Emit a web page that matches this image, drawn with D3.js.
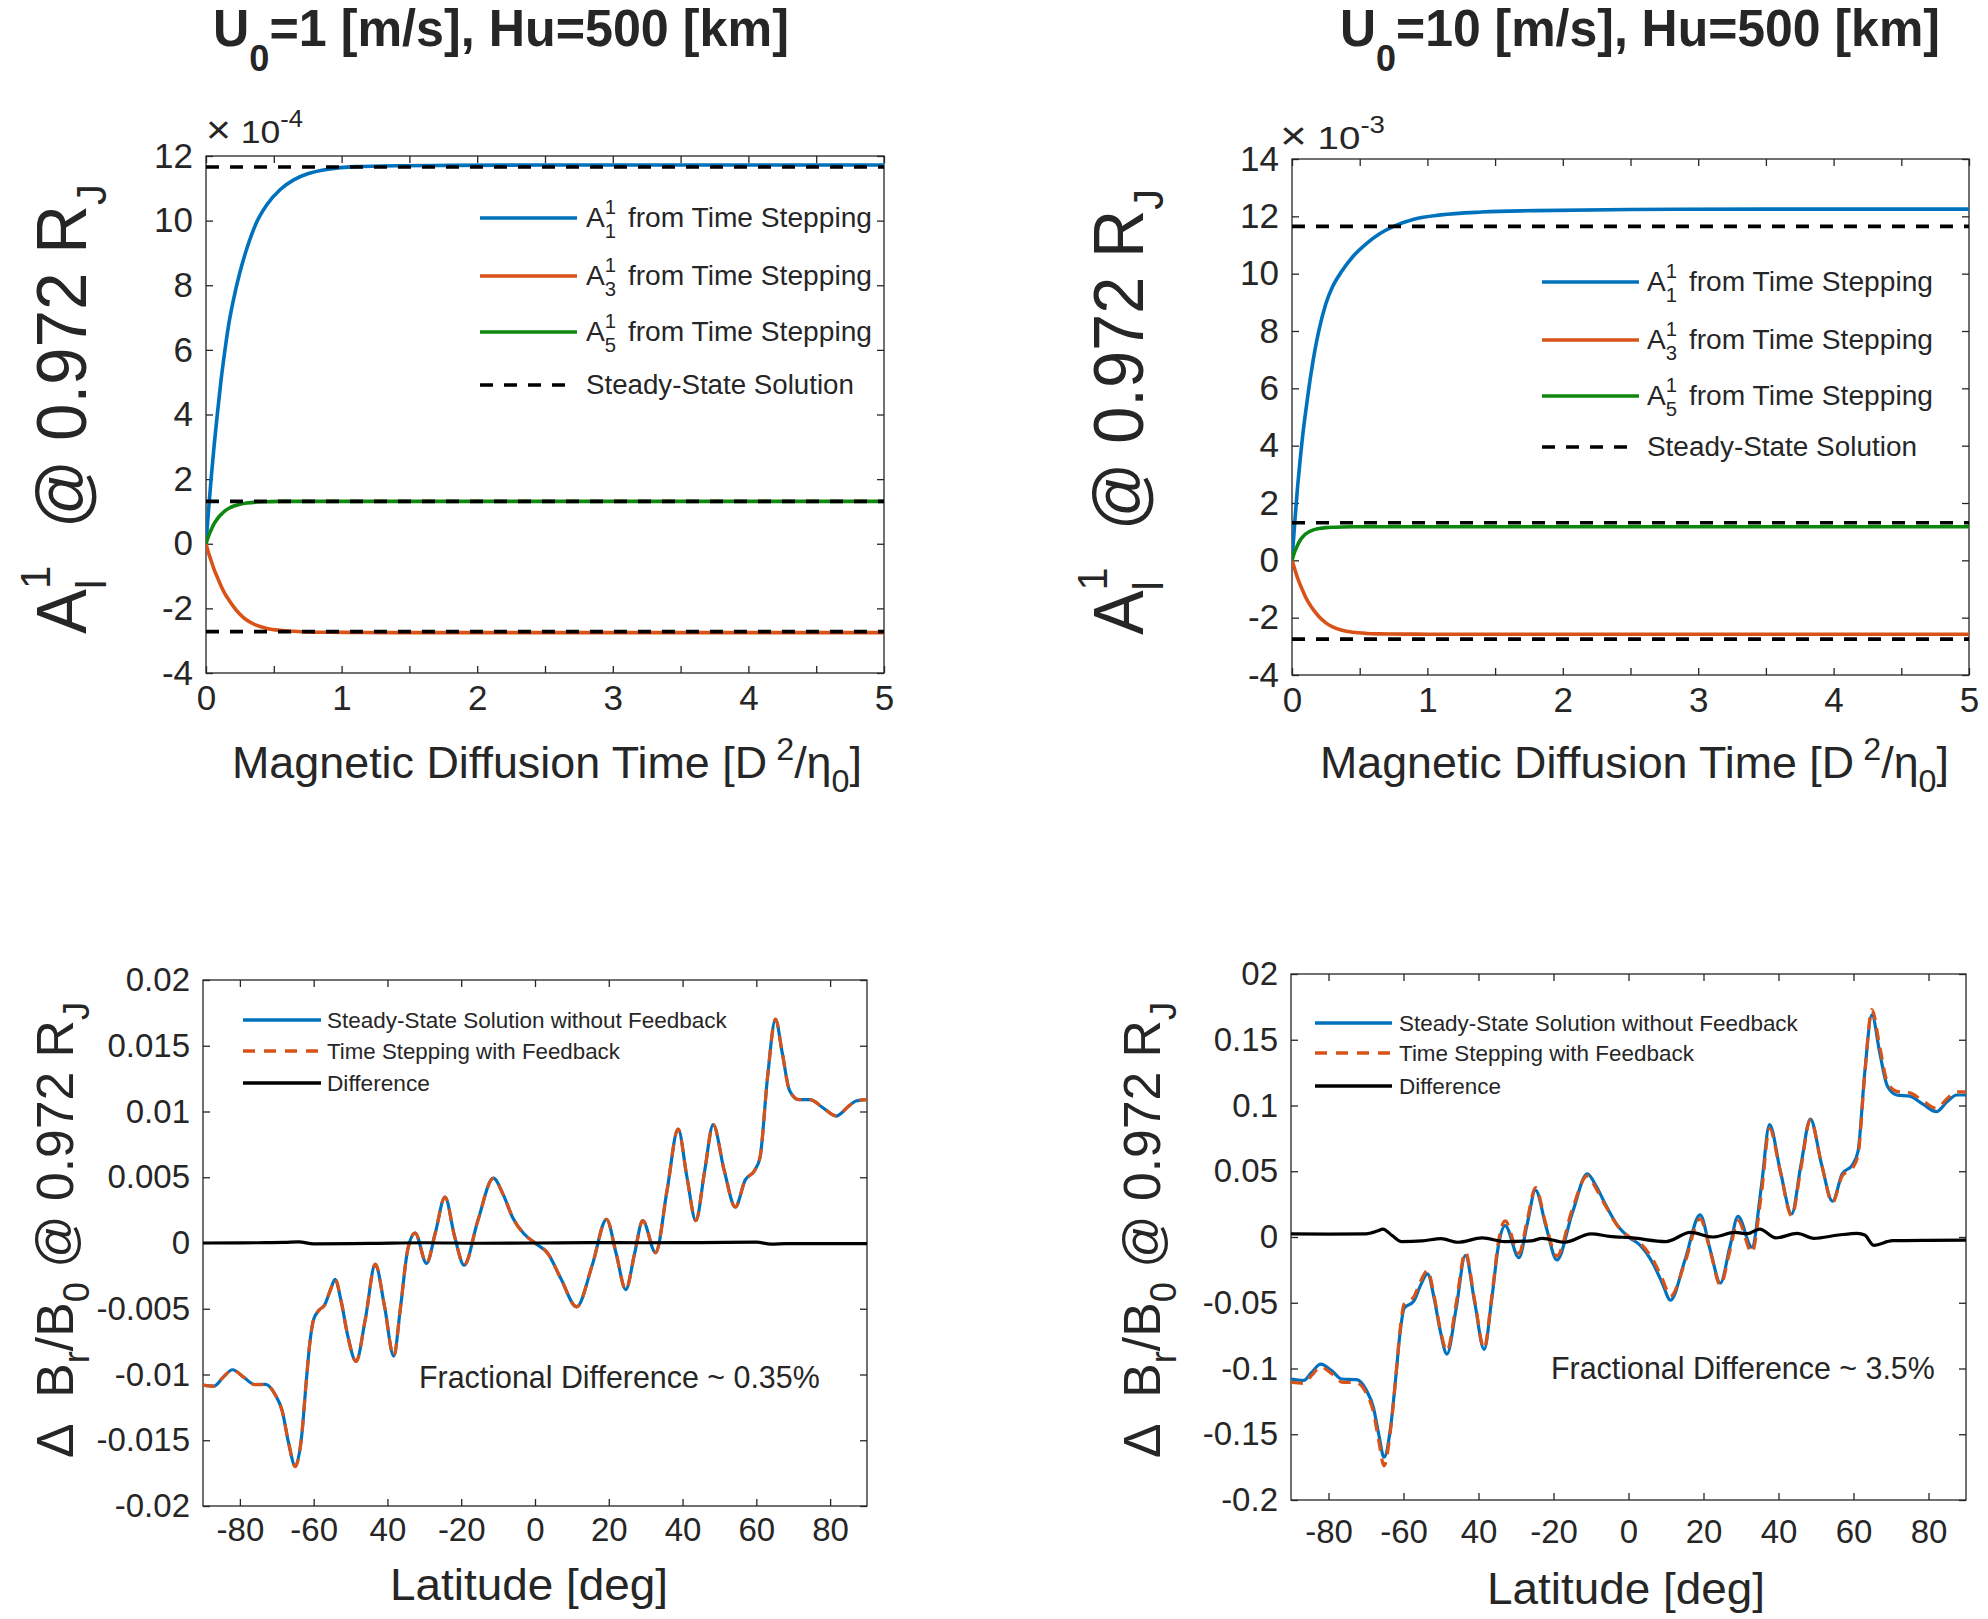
<!DOCTYPE html>
<html><head><meta charset="utf-8"><title>chart</title>
<script src="https://cdn.jsdelivr.net/npm/d3@7/dist/d3.min.js"></script>
<style>
html,body{margin:0;padding:0;background:#fff}
svg text{font-family:"Liberation Sans",Arial,Helvetica,sans-serif;white-space:pre}
</style></head><body>
<svg id="chart" width="1988" height="1619" xmlns="http://www.w3.org/2000/svg"></svg>
<script>
// ================= DATA =================
// top panels: time axis [D^2/eta0]
const timeTop = [0, 0.02, 0.04, 0.06, 0.085, 0.11, 0.14, 0.17, 0.2, 0.25, 0.3, 0.37, 0.45, 0.55, 0.65, 0.75, 0.9, 1.1, 1.4, 1.8, 2.5, 3.5, 5];
// left panel (x 1e-4)
const a1Left = [0, 1.11, 2.12, 3.04, 4.07, 5.03, 6.0, 6.85, 7.5, 8.4, 9.12, 9.92, 10.5, 10.97, 11.27, 11.45, 11.59, 11.67, 11.7, 11.71, 11.72, 11.72, 11.72];
const a3Left = [0, -0.3, -0.55, -0.8, -1.05, -1.3, -1.55, -1.75, -1.93, -2.18, -2.36, -2.52, -2.62, -2.68, -2.71, -2.73, -2.74, -2.745, -2.75, -2.75, -2.75, -2.75, -2.75];
const a5Left = [0, 0.25, 0.45, 0.62, 0.78, 0.9, 1.02, 1.1, 1.16, 1.22, 1.26, 1.29, 1.3, 1.31, 1.31, 1.31, 1.31, 1.31, 1.31, 1.31, 1.31, 1.31, 1.31];
const steadyLeft = [11.66, -2.72, 1.31];
// right panel (x 1e-3)
const a1Right = [0, 1.3, 2.5, 3.5, 4.6, 5.5, 6.5, 7.35, 8.05, 8.95, 9.55, 10.1, 10.6, 11.05, 11.4, 11.65, 11.9, 12.05, 12.15, 12.2, 12.24, 12.25, 12.25];
const a3Right = [0, -0.3, -0.6, -0.85, -1.12, -1.37, -1.6, -1.8, -1.97, -2.18, -2.32, -2.44, -2.51, -2.55, -2.565, -2.57, -2.575, -2.58, -2.58, -2.58, -2.58, -2.58, -2.58];
const a5Right = [0, 0.3, 0.52, 0.7, 0.85, 0.95, 1.03, 1.08, 1.11, 1.14, 1.155, 1.165, 1.17, 1.17, 1.17, 1.17, 1.17, 1.17, 1.17, 1.17, 1.17, 1.17, 1.17];
const steadyRight = [11.65, -2.75, 1.31];

const timeTicks = [0, 0.5, 1, 1.5, 2, 2.5, 3, 3.5, 4, 4.5, 5];
const timeTickLabels = ['0', '1', '2', '3', '4', '5'];
const yTicksLeft = [-4, -2, 0, 2, 4, 6, 8, 10, 12];
const yTickLabelsLeft = ['-4', '-2', '0', '2', '4', '6', '8', '10', '12'];
const yTicksRight = [-4, -2, 0, 2, 4, 6, 8, 10, 12, 14];
const yTickLabelsRight = ['-4', '-2', '0', '2', '4', '6', '8', '10', '12', '14'];

// bottom-left panel: latitude profile, U0 = 1 m/s
const latBL = [-90, -87, -84.5, -82, -79, -76, -73, -70.5, -68.5, -66.8, -65, -63.3, -62, -61, -60, -58.5, -57, -55.5, -54.2, -52.5, -50.8, -48.5, -46, -43.3, -40.8, -38.3, -36.5, -34.5, -32.5, -29.4, -27, -24.4, -21.8, -19.2, -15.5, -11.3, -8.5, -6, -3, 0, 3.5, 7, 11.3, 15.5, 19.4, 22, 24.6, 27, 29.2, 32.7, 35.8, 38.8, 41.2, 43.6, 46, 48.3, 51.3, 54.3, 57, 59.5, 61, 63, 65.2, 67, 69, 71.5, 74.5, 78, 81.7, 85, 87, 90];
const steadyBL = [-0.0108, -0.01088, -0.0102, -0.00964, -0.0102, -0.01076, -0.01075, -0.0115, -0.0128, -0.0152, -0.01697, -0.0148, -0.0105, -0.0075, -0.0058, -0.0051, -0.0047, -0.0036, -0.00277, -0.0045, -0.007, -0.00901, -0.0058, -0.00162, -0.0048, -0.0086, -0.005, -0.0005, 0.00075, -0.00155, 0.0008, 0.0035, 0.0005, -0.00169, 0.0017, 0.00493, 0.0036, 0.0019, 0.0007, 0.0, -0.0008, -0.0027, -0.00486, -0.0017, 0.0018, -0.0008, -0.00354, -0.0008, 0.0017, -0.00075, 0.004, 0.00867, 0.005, 0.0017, 0.0055, 0.009, 0.0055, 0.00274, 0.0048, 0.0055, 0.0065, 0.0125, 0.017, 0.0145, 0.0116, 0.0109, 0.0109, 0.0103, 0.00965, 0.0104, 0.0108, 0.0109];
const timeBL = [-0.01081, -0.01089, -0.0102, -0.00965, -0.0102, -0.01077, -0.01076, -0.0115, -0.0128, -0.0152, -0.017, -0.0148, -0.0105, -0.0075, -0.0058, -0.0051, -0.0047, -0.0036, -0.00276, -0.0045, -0.007, -0.009, -0.0058, -0.00161, -0.0048, -0.0086, -0.005, -0.0005, 0.00076, -0.00154, 0.0008, 0.0035, 0.0005, -0.00168, 0.0017, 0.00492, 0.0036, 0.0019, 0.0007, 0.0, -0.0008, -0.0027, -0.00485, -0.0017, 0.0018, -0.0008, -0.00355, -0.0008, 0.0017, -0.00074, 0.004, 0.00866, 0.005, 0.0017, 0.0055, 0.009, 0.0055, 0.00273, 0.0048, 0.0055, 0.0065, 0.0125, 0.01702, 0.0145, 0.0116, 0.0109, 0.0109, 0.0103, 0.00966, 0.0104, 0.0108, 0.0109];
const diffLatBL = [-90, -75, -68, -64, -60, -45, -30, -15, 0, 15, 30, 45, 60, 64, 68, 75, 90];
const diffBL = [0, 0.00002, 0.00004, 0.00008, -0.00006, -0.00003, 0.00002, -0.00002, 0, 0.00003, 0.00002, 0.00003, 0.00006, -0.00008, -0.00005, -0.00004, -0.00004];

// bottom-right panel: latitude profile, U0 = 10 m/s
const latBR = [-90, -86.6, -84.5, -82.1, -79, -76.5, -72.5, -70, -68, -66.6, -65.2, -63.5, -62, -61, -59.8, -57.3, -55.5, -53.6, -51.8, -50.3, -48.4, -46, -43.5, -41, -38.5, -36.5, -34.6, -32.9, -29.2, -27, -24.8, -22, -19.1, -15, -11, -8.5, -6, -3, 0, 3, 6.5, 9, 11.2, 15, 19.1, 21.8, 24.5, 27, 29.2, 32.9, 35.5, 37.6, 40.5, 43.5, 46, 48.5, 51.5, 54.4, 57, 59.7, 61.2, 63, 64.9, 67, 69, 71.5, 75, 78.5, 82.1, 85, 87.5, 90];
const steadyBR = [-0.108, -0.109, -0.103, -0.0967, -0.102, -0.108, -0.1085, -0.116, -0.13, -0.15, -0.1675, -0.146, -0.105, -0.075, -0.054, -0.049, -0.037, -0.028, -0.047, -0.07, -0.089, -0.055, -0.014, -0.05, -0.0855, -0.048, -0.005, 0.0087, -0.0157, 0.01, 0.0356, 0.008, -0.0175, 0.018, 0.048, 0.038, 0.024, 0.009, 0.0, -0.006, -0.02, -0.035, -0.048, -0.018, 0.0168, -0.01, -0.035, -0.008, 0.0157, -0.0077, 0.04, 0.0855, 0.05, 0.0175, 0.055, 0.0897, 0.055, 0.0272, 0.048, 0.0548, 0.065, 0.125, 0.169, 0.14, 0.115, 0.108, 0.107, 0.101, 0.0953, 0.103, 0.108, 0.108];
const timeBR = [-0.1104, -0.1113, -0.1053, -0.0989, -0.1042, -0.1103, -0.1109, -0.1184, -0.1335, -0.155, -0.174, -0.148, -0.105, -0.073, -0.0507, -0.0457, -0.034, -0.0255, -0.0452, -0.0687, -0.0865, -0.0512, -0.0115, -0.0485, -0.0847, -0.046, -0.002, 0.0122, -0.0125, 0.013, 0.0376, 0.0095, -0.0145, 0.021, 0.0465, 0.036, 0.023, 0.0088, 0.0005, -0.0045, -0.0172, -0.0316, -0.045, -0.02, 0.0138, -0.0108, -0.0365, -0.011, 0.0124, -0.0117, 0.0342, 0.0825, 0.0495, 0.016, 0.0525, 0.0892, 0.055, 0.0262, 0.0465, 0.0523, 0.0622, 0.1235, 0.173, 0.145, 0.118, 0.1107, 0.1096, 0.1035, 0.0978, 0.1054, 0.1104, 0.1104];
const diffLatBR = [-90, -80, -70, -67, -65.5, -63, -60.5, -55, -50, -45.5, -39, -33, -26, -23, -17, -10, -5, 1, 10, 16.5, 22.5, 28.4, 31.7, 35, 39.3, 45, 49.4, 56, 61, 63, 65.4, 70.4, 80, 90];
const diffBR = [0.0024, 0.0022, 0.0024, 0.0045, 0.006, 0.001, -0.0035, -0.003, -0.0012, -0.004, -0.0007, -0.0035, -0.003, -0.001, -0.004, 0.0024, 0.0005, -0.0007, -0.0035, 0.0035, 0.0, 0.0035, 0.0025, 0.006, -0.0007, 0.0028, -0.001, 0.0015, 0.0028, 0.0015, -0.0063, -0.0028, -0.0025, -0.0024];

const latTicks = [-80, -60, -40, -20, 0, 20, 40, 60, 80];
const latTickLabels = ['-80', '-60', '40', '-20', '0', '20', '40', '60', '80'];
const yTicksBL = [-0.02, -0.015, -0.01, -0.005, 0, 0.005, 0.01, 0.015, 0.02];
const yTickLabelsBL = ['-0.02', '-0.015', '-0.01', '-0.005', '0', '0.005', '0.01', '0.015', '0.02'];
const yTicksBR = [-0.2, -0.15, -0.1, -0.05, 0, 0.05, 0.1, 0.15, 0.2];
const yTickLabelsBR = ['-0.2', '-0.15', '-0.1', '-0.05', '0', '0.05', '0.1', '0.15', '02'];

const titles = ['=1 [m/s], Hu=500 [km]', '=10 [m/s], Hu=500 [km]'];
const legendTop = ['from Time Stepping', 'Steady-State Solution'];
const legendBottom = ['Steady-State Solution without Feedback', 'Time Stepping with Feedback', 'Difference'];
const notes = ['Fractional Difference ~ 0.35%', 'Fractional Difference ~ 3.5%'];

// ================= DRAWING =================
const svg = d3.select('#chart');
const INK = '#262626';
const BLUE = '#0072BD', ORANGE = '#D95319', GREEN = '#0E870E', BLACK = '#000000';

function rich(parent, segs, o) {
  const outer = parent.append('g')
    .attr('transform', `translate(${o.x},${o.y})` + (o.rotate ? ` rotate(${o.rotate})` : ''));
  const inner = outer.append('g');
  let x = 0, stackStart = null, stackW = 0;
  segs.forEach(sg => {
    const s = typeof sg === 'string' ? {t: sg} : sg;
    const fs = o.size * (s.s || 1);
    const px = (stackStart !== null ? stackStart : x) + (s.dx || 0) * o.size;
    const t = inner.append('text')
      .attr('x', px).attr('y', (s.dy || 0) * o.size)
      .attr('font-size', fs)
      .attr('font-weight', o.bold ? 'bold' : 'normal')
      .attr('fill', o.fill || INK)
      .text(s.t);
    const w = t.node().getComputedTextLength() + (s.dx || 0) * o.size;
    if (s.stack) { stackStart = x; stackW = w; }
    else if (stackStart !== null) { x = stackStart + Math.max(w, stackW); stackStart = null; }
    else x += w;
  });
  const total = x;
  const k = o.width ? o.width / total : 1;
  const off = o.anchor === 'middle' ? -total / 2 : (o.anchor === 'end' ? -total : 0);
  inner.attr('transform', `scale(${k},1) translate(${off},0)`);
  return outer;
}

function frame(p) {
  const g = svg.append('g');
  const [xl, xr] = p.x.range();
  const [yb, yt] = p.y.range();
  const style = sel => {
    sel.attr('font-family', null).attr('font-size', null);
    sel.select('.domain').remove();
    sel.selectAll('.tick line').attr('stroke', INK).attr('stroke-width', 1.3);
    sel.selectAll('.tick text').attr('fill', INK).attr('font-size', p.tickFs);
  };
  g.append('g').attr('transform', `translate(0,${yb})`)
    .call(d3.axisBottom(p.x).tickValues(p.xTicks).tickFormat(p.xFmt).tickSizeInner(-7).tickSizeOuter(0).tickPadding(p.xPad)).call(style);
  g.append('g').attr('transform', `translate(0,${yt})`)
    .call(d3.axisTop(p.x).tickValues(p.xTicks).tickFormat('').tickSizeInner(-7).tickSizeOuter(0)).call(style);
  g.append('g').attr('transform', `translate(${xl},0)`)
    .call(d3.axisLeft(p.y).tickValues(p.yTicks).tickFormat(p.yFmt).tickSizeInner(-7).tickSizeOuter(0).tickPadding(p.yPad)).call(style);
  g.append('g').attr('transform', `translate(${xr},0)`)
    .call(d3.axisRight(p.y).tickValues(p.yTicks).tickFormat('').tickSizeInner(-7).tickSizeOuter(0)).call(style);
  g.append('rect').attr('x', xl).attr('y', yt).attr('width', xr - xl).attr('height', yb - yt)
    .attr('fill', 'none').attr('stroke', INK).attr('stroke-width', 1.3);
  return g;
}

let clipN = 0;
function plotArea(x, y) {
  const id = 'clip' + (clipN++);
  const [xl, xr] = x.range(), [yb, yt] = y.range();
  svg.append('clipPath').attr('id', id).append('rect')
    .attr('x', xl).attr('y', yt - 2).attr('width', xr - xl).attr('height', yb - yt + 4);
  return svg.append('g').attr('clip-path', `url(#${id})`);
}

function curve(g, xs, ys, x, y, stroke, width, dash) {
  const pts = d3.zip(xs, ys);
  return g.append('path').datum(pts)
    .attr('d', d3.line().x(d => x(d[0])).y(d => y(d[1])).curve(d3.curveMonotoneX))
    .attr('fill', 'none').attr('stroke', stroke).attr('stroke-width', width)
    .attr('stroke-dasharray', dash || null).attr('stroke-linejoin', 'round');
}

function legendLine(g, x1, x2, yy, stroke, width, dash) {
  g.append('line').attr('x1', x1).attr('x2', x2).attr('y1', yy).attr('y2', yy)
    .attr('stroke', stroke).attr('stroke-width', width).attr('stroke-dasharray', dash || null);
}

// ---------- top panels ----------
function topPanel(cfg) {
  const x = d3.scaleLinear().domain([0, 5]).range(cfg.xr);
  const y = d3.scaleLinear().domain(cfg.yd).range(cfg.yr);
  frame({x, y, xTicks: timeTicks, xFmt: d => Number.isInteger(d) ? timeTickLabels[d] : '',
         yTicks: cfg.yTicks, yFmt: (d, i) => cfg.yLabels[i], tickFs: 35, xPad: 12, yPad: 13});
  const g = plotArea(x, y);
  curve(g, timeTop, cfg.a1, x, y, BLUE, 3.6);
  curve(g, timeTop, cfg.a3, x, y, ORANGE, 3.6);
  curve(g, timeTop, cfg.a5, x, y, GREEN, 3.6);
  cfg.steady.forEach(v => curve(g, [0, 5], [v, v], x, y, BLACK, 3.6, '13,11'));

  // exponent
  rich(svg, [{t: '×', s: 1.2}, {t: ' 10'}, {t: cfg.exp, s: 0.72, dy: -0.5}], {x: cfg.expPos[0], y: cfg.expPos[1], size: 32, width: cfg.expPos[2]});
  // title
  rich(svg, [{t: 'U'}, {t: '0', s: 0.72, dy: 0.48}, {t: cfg.title}], {x: cfg.titlePos[0], y: cfg.titlePos[1], size: 52, bold: true, width: cfg.titlePos[2]});
  // y label
  rich(svg, [{t: 'A'}, {t: '1', s: 0.62, dy: -0.52, stack: true}, {t: 'l', s: 0.62, dy: 0.28}, {t: '  @ 0.972 R'}, {t: 'J', s: 0.62, dy: 0.28}],
       {x: cfg.yLab[0], y: cfg.yLab[1], size: 70, rotate: -90, anchor: 'middle', width: cfg.yLab[2]});
  // x label
  rich(svg, [{t: 'Magnetic Diffusion Time [D'}, {t: ' 2', s: 0.72, dy: -0.42}, {t: '/η'}, {t: '0', s: 0.72, dy: 0.32}, {t: ']'}],
       {x: cfg.xLab[0], y: cfg.xLab[1], size: 44, width: cfg.xLab[2]});
  // legend
  const lg = svg.append('g');
  const [lx1, lx2, tx, rows, w1, w2] = cfg.leg;
  const cols = [BLUE, ORANGE, GREEN];
  ['1', '3', '5'].forEach((sub, i) => {
    legendLine(lg, lx1, lx2, rows[i], cols[i], 3.6);
    rich(lg, [{t: 'A'}, {t: '1', s: 0.72, dy: -0.5, stack: true}, {t: sub, s: 0.72, dy: 0.42}, {t: legendTop[0], dx: 0.42}],
         {x: tx, y: rows[i] + 9, size: 27, width: w1});
  });
  legendLine(lg, lx1, lx2 - 8, rows[3], BLACK, 3.6, '13,11');
  rich(lg, [{t: legendTop[1]}], {x: tx, y: rows[3] + 9, size: 27, width: w2});
}

topPanel({xr: [206, 884], yd: [-4, 12], yr: [673, 156], yTicks: yTicksLeft, yLabels: yTickLabelsLeft,
  a1: a1Left, a3: a3Left, a5: a5Left, steady: steadyLeft, exp: '-4', title: titles[0],
  expPos: [206, 143, 97], titlePos: [213, 46, 576], yLab: [86, 409, 450], xLab: [232, 778, 630],
  leg: [480, 577, 586, [218, 276, 332, 385], 286, 268]});
topPanel({xr: [1292, 1969], yd: [-4, 14], yr: [675, 159], yTicks: yTicksRight, yLabels: yTickLabelsRight,
  a1: a1Right, a3: a3Right, a5: a5Right, steady: steadyRight, exp: '-3', title: titles[1],
  expPos: [1280, 149, 105], titlePos: [1340, 46, 600], yLab: [1143, 412, 446], xLab: [1320, 778, 629],
  leg: [1542, 1639, 1647, [282, 340, 396, 447], 286, 270]});

// ---------- bottom panels ----------
function bottomPanel(cfg) {
  const x = d3.scaleLinear().domain([-90, 90]).range(cfg.xr);
  const y = d3.scaleLinear().domain(cfg.yd).range(cfg.yr);
  frame({x, y, xTicks: latTicks, xFmt: (d, i) => latTickLabels[i],
         yTicks: cfg.yTicks, yFmt: (d, i) => cfg.yLabels[i], tickFs: 33, xPad: cfg.xPad, yPad: 13});
  const g = plotArea(x, y);
  curve(g, cfg.lat, cfg.steady, x, y, BLUE, 3.2);
  curve(g, cfg.lat, cfg.time, x, y, ORANGE, 3.2, '12,8');
  curve(g, cfg.dLat, cfg.diff, x, y, BLACK, 3.2);

  rich(svg, [{t: 'Δ  B'}, {t: 'r', s: 0.7, dy: 0.3}, {t: '/B'}, {t: '0', s: 0.7, dy: 0.3}, {t: ' @ 0.972 R'}, {t: 'J', s: 0.7, dy: 0.3}],
       {x: cfg.yLab[0], y: cfg.yLab[1], size: 52, rotate: -90, anchor: 'middle', width: cfg.yLab[2]});
  rich(svg, [{t: 'Latitude [deg]'}], {x: cfg.xLab[0], y: cfg.xLab[1], size: 45, width: cfg.xLab[2]});

  const lg = svg.append('g');
  const [lx1, lx2, tx, rows, ws] = cfg.leg;
  legendLine(lg, lx1, lx2, rows[0], BLUE, 3.6);
  legendLine(lg, lx1, lx2, rows[1], ORANGE, 3.6, '12,9');
  legendLine(lg, lx1, lx2, rows[2], BLACK, 3.6);
  legendBottom.forEach((s, i) => rich(lg, [{t: s}], {x: tx, y: rows[i] + 8, size: 22, width: ws[i]}));
  rich(svg, [{t: cfg.note}], {x: cfg.notePos[0], y: cfg.notePos[1], size: 31, width: cfg.notePos[2]});
}

bottomPanel({xr: [203, 867], yd: [-0.02, 0.02], yr: [1506, 980], yTicks: yTicksBL, yLabels: yTickLabelsBL, xPad: 12,
  lat: latBL, steady: steadyBL, time: timeBL, dLat: diffLatBL, diff: diffBL,
  yLab: [73, 1230, 456], xLab: [390, 1600, 278],
  leg: [243, 321, 327, [1020, 1051, 1083], [400, 293, 103]], note: notes[0], notePos: [419, 1388, 401]});
bottomPanel({xr: [1291, 1966], yd: [-0.2, 0.2], yr: [1500, 974], yTicks: yTicksBR, yLabels: yTickLabelsBR, xPad: 20,
  lat: latBR, steady: steadyBR, time: timeBR, dLat: diffLatBR, diff: diffBR,
  yLab: [1160, 1230, 456], xLab: [1487, 1604, 278],
  leg: [1315, 1392, 1399, [1023, 1053, 1086], [399, 295, 102]], note: notes[1], notePos: [1551, 1379, 384]});
</script></body></html>
